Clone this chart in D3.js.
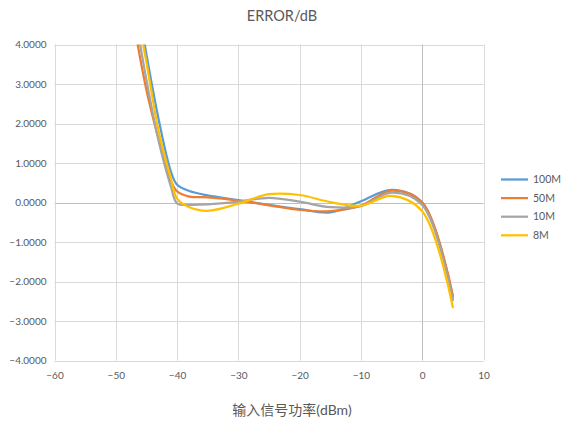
<!DOCTYPE html>
<html>
<head>
<meta charset="utf-8">
<script src="https://cdn.jsdelivr.net/npm/d3@7"></script>
<style>
  html, body { margin: 0; padding: 0; background: #fff; }
  svg { display: block; }
  text { font-family: Lato, "Noto Sans CJK SC", sans-serif; fill: #595959; }
</style>
</head>
<body>
<svg id="chart" width="564" height="423"></svg>
<script>
// Input power sweep (dBm) shared by all series
const inputPower = [-47, -45, -43, -41, -40, -38, -35, -30, -25, -20, -15, -10, -5, 0, 5];

// Error (dB) per bandwidth
const err100M = [5.6, 3.75, 2.1, 0.78, 0.45, 0.29, 0.18, 0.06, -0.06, -0.17, -0.25, 0.03, 0.32, 0.0, -2.4];
const err50M  = [4.5, 2.85, 1.6, 0.55, 0.28, 0.15, 0.13, 0.05, -0.07, -0.19, -0.22, -0.08, 0.30, 0.0, -2.36];
const err10M  = [4.9, 3.1, 1.55, 0.4, -0.02, -0.06, -0.05, 0.02, 0.12, 0.02, -0.12, -0.09, 0.25, -0.06, -2.47];
const err8M   = [5.2, 3.55, 1.8, 0.6, 0.1, -0.12, -0.21, -0.03, 0.21, 0.19, 0.01, -0.08, 0.17, -0.22, -2.65];

const seriesNames = ["100M", "50M", "10M", "8M"];
const seriesValues = [err100M, err50M, err10M, err8M];
const seriesColors = ["#5B9BD5", "#ED7D31", "#A5A5A5", "#FFC000"];

const xTicks = [-60, -50, -40, -30, -20, -10, 0, 10];
const yTicks = [-4, -3, -2, -1, 0, 1, 2, 3, 4];

const titleText = "ERROR/dB";
const xTitleText = "输入信号功率(dBm)";

const svg = d3.select("#chart");
const plotLeft = 54.5, plotRight = 483.5, plotTop = 44.5, plotBottom = 360.5;

const x = d3.scaleLinear().domain([-60, 10]).range([plotLeft, plotRight]);
const y = d3.scaleLinear().domain([-4, 4]).range([plotBottom, plotTop]);

// gridlines
const grid = svg.append("g");
grid.selectAll("line.h").data(yTicks).join("line")
  .attr("x1", plotLeft).attr("x2", plotRight)
  .attr("y1", d => Math.round(y(d)) + 0.5).attr("y2", d => Math.round(y(d)) + 0.5)
  .attr("stroke", d => d === 0 ? "#BFBFBF" : "#D9D9D9").attr("stroke-width", 1);
grid.selectAll("line.v").data(xTicks).join("line")
  .attr("y1", plotTop).attr("y2", plotBottom)
  .attr("x1", d => Math.round(x(d)) + 0.5).attr("x2", d => Math.round(x(d)) + 0.5)
  .attr("stroke", d => d === 0 ? "#BFBFBF" : "#D9D9D9").attr("stroke-width", 1);

// axis labels
const yAxis = d3.axisLeft(y).tickValues(yTicks).tickFormat(d3.format(".4f")).tickSize(0).tickPadding(8);
const gy = svg.append("g").attr("transform", `translate(${plotLeft},0)`).call(yAxis);
gy.select(".domain").remove();
gy.selectAll("text").style("font-size", "10px").attr("fill", "#595959");

const xAxis = d3.axisBottom(x).tickValues(xTicks).tickFormat(d3.format("d")).tickSize(0).tickPadding(11);
const gx = svg.append("g").attr("transform", `translate(0,${plotBottom})`).call(xAxis);
gx.select(".domain").remove();
gx.selectAll("text").style("font-size", "10px").attr("fill", "#595959");

// series lines, clipped to the plot area
svg.append("clipPath").attr("id", "plot-clip")
  .append("rect").attr("x", plotLeft).attr("y", plotTop)
  .attr("width", plotRight - plotLeft).attr("height", plotBottom - plotTop);

const line = d3.line()
  .x((d, i) => x(inputPower[i]))
  .y(d => y(d))
  .curve(d3.curveCatmullRom.alpha(0.5));

svg.append("g").attr("clip-path", "url(#plot-clip)")
  .selectAll("path").data(seriesValues).join("path")
  .attr("d", d => line(d))
  .attr("fill", "none")
  .attr("stroke", (d, i) => seriesColors[i])
  .attr("stroke-width", 2.25)
  .attr("stroke-linejoin", "round")
  .attr("stroke-linecap", "round");

// title
svg.append("text").attr("x", 282).attr("y", 21).attr("text-anchor", "middle")
  .style("font-size", "14.5px").text(titleText);

// x axis title
svg.append("text").attr("x", 292).attr("y", 415).attr("text-anchor", "middle")
  .style("font-size", "14px").text(xTitleText);

// legend
const legend = svg.append("g").selectAll("g").data(seriesNames).join("g")
  .attr("transform", (d, i) => `translate(501,${179.5 + i * 18.6})`);
legend.append("line").attr("x1", 0).attr("x2", 27).attr("y1", 0).attr("y2", 0)
  .attr("stroke", (d, i) => seriesColors[i]).attr("stroke-width", 2.25);
legend.append("text").attr("x", 32).attr("y", 0).attr("dy", "0.35em")
  .style("font-size", "10.5px").text(d => d);
</script>
</body>
</html>
